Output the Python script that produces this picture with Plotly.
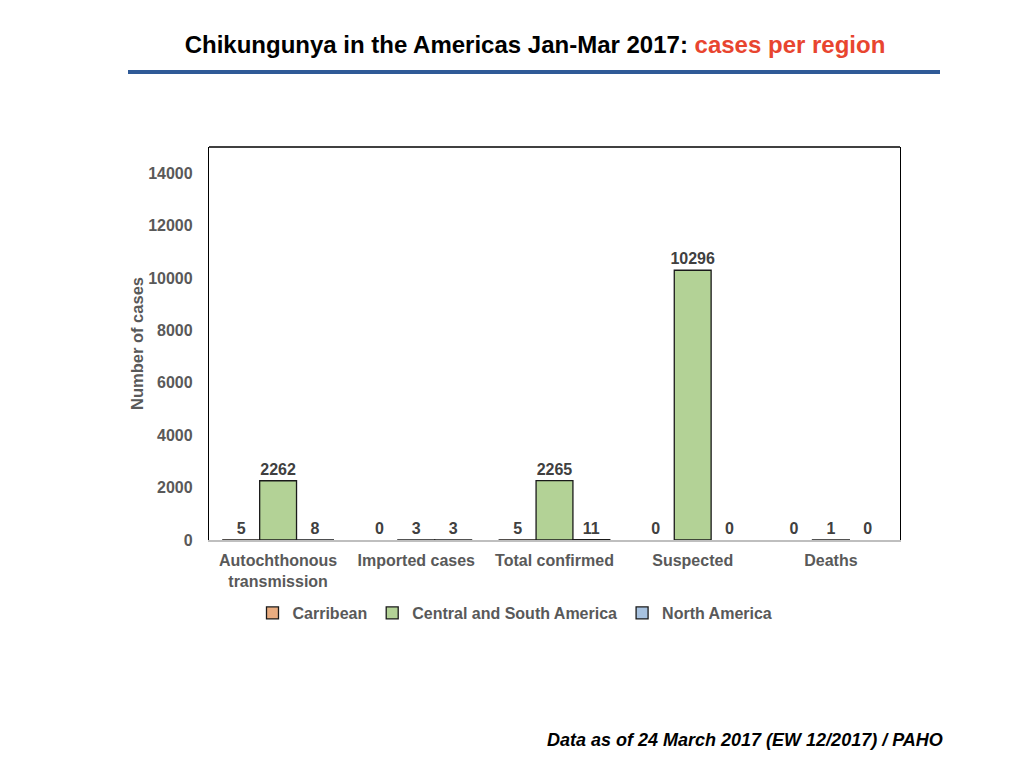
import plotly.graph_objects as go

# ---- data ----
categories = ["Autochthonous<br>transmission", "Imported cases", "Total confirmed", "Suspected", "Deaths"]
caribbean = [5, 0, 5, 0, 0]
central_south = [2262, 3, 2265, 10296, 1]
north_america = [8, 3, 11, 0, 0]
y_ticks = [0, 2000, 4000, 6000, 8000, 10000, 12000, 14000]

series = [
    ("Carribean", caribbean, "#E9AC80"),
    ("Central and South America", central_south, "#B3D296"),
    ("North America", north_america, "#A7C2E0"),
]

LABEL_GRAY = "#595959"
FONT = "Liberation Sans, Arial, sans-serif"

fig = go.Figure()
for name, vals, color in series:
    fig.add_trace(go.Bar(
        x=categories, y=vals, name=name,
        marker=dict(color=color,
                    line=dict(color="#1a1a1a", width=[1.3 if v > 0 else 0 for v in vals])),
        text=vals, texttemplate="<b>%{text}</b>", textposition="outside",
        textfont=dict(size=16, color="#404040", family=FONT),
        constraintext="none", cliponaxis=False,
    ))

# page has an 8px body margin, so work in page pixels and shift
OFF = 8
W, H = 1024 - OFF, 768 - OFF
L, R, T, B = 209 - OFF, W - (900 - OFF), 147 - OFF, H - (540 - OFF)
plot_w = W - L - R
plot_h = H - T - B


def px_x(px):
    return (px - OFF - L) / plot_w


def px_y(py):
    return (H - B - (py - OFF)) / plot_h


fig.update_layout(
    width=W, height=H,
    margin=dict(l=L, r=R, t=T, b=B),
    paper_bgcolor="white", plot_bgcolor="white",
    barmode="group", bargap=0.2, bargroupgap=0,
    font=dict(family=FONT, color=LABEL_GRAY),
    title=dict(
        text="<b>Chikungunya in the Americas Jan-Mar 2017: <span style='color:#E8452F'>cases per region</span></b>",
        x=(535 - OFF) / W, xanchor="center", y=1 - (45 - OFF) / H, yanchor="middle",
        font=dict(size=24, color="black", family=FONT),
    ),
    showlegend=True,
    legend=dict(
        orientation="h", x=px_x(515), xanchor="center", y=px_y(613), yanchor="middle",
        font=dict(size=16, color=LABEL_GRAY, family=FONT, weight="bold"),
        itemwidth=30, traceorder="normal",
    ),
    xaxis=dict(
        showline=True, linecolor="#BFBFBF", linewidth=1.5,
        ticks="", tickfont=dict(size=16, color=LABEL_GRAY, family=FONT, weight="bold"),
        ticklabelstandoff=5, showgrid=False,
    ),
    yaxis=dict(
        range=[0, 15000], tickvals=y_ticks, showgrid=False, zeroline=False,
        showline=True, linecolor="black", linewidth=1.3, mirror=True, ticks="",
        tickfont=dict(size=16, color=LABEL_GRAY, family=FONT, weight="bold"),
        ticklabelstandoff=12,
        title=dict(text="<b>Number of cases</b>", font=dict(size=16.5, color=LABEL_GRAY), standoff=0),
    ),
    shapes=[
        dict(type="line", xref="paper", yref="paper", x0=0, x1=1, y0=1, y1=1,
             line=dict(color="black", width=1.3)),
        dict(type="line", xref="paper", yref="paper", x0=px_x(128), x1=px_x(940),
             y0=px_y(72), y1=px_y(72), line=dict(color="#2F5A97", width=4)),
    ],
    annotations=[
        dict(text="<b><i>Data as of 24 March 2017 (EW 12/2017) / PAHO</i></b>",
             xref="paper", yref="paper", x=px_x(945), y=px_y(740),
             xanchor="right", yanchor="middle", showarrow=False,
             font=dict(size=18, color="black", family=FONT)),
    ],
)
fig.update_yaxes(tickformat="d")

fig.write_html("out.html")
